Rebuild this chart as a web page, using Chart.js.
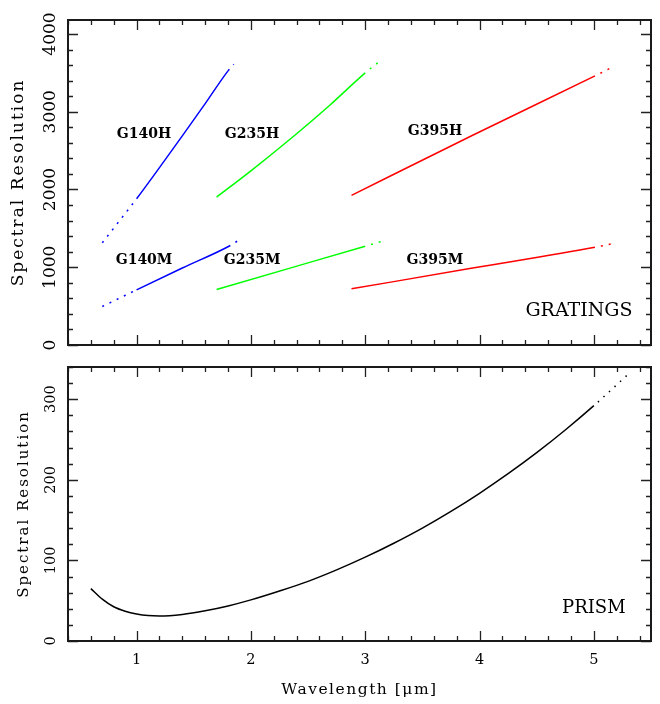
<!DOCTYPE html>
<html><head><meta charset="utf-8">
<script src="https://cdn.jsdelivr.net/npm/chart.js@4.4.1/dist/chart.umd.min.js"></script>
<style>
html,body{margin:0;padding:0;background:#fff;}
#wrap{position:relative;width:660px;height:704px;background:#fff;}
#c1{position:absolute;left:0;top:0;}
#c2{position:absolute;left:0;top:360px;}
</style></head><body>
<div id="wrap"><canvas id="c1" width="660" height="360"></canvas><canvas id="c2" width="660" height="344"></canvas></div>
<script>
const FONT = '"DejaVu Serif", "Liberation Serif", serif';

// ---- data (wavelength in micron, spectral resolution) ----
const g140hWave = [0.70, 0.85, 1.00, 1.20, 1.40, 1.60, 1.80, 1.85];
const g140hRes  = [1314, 1597, 1881, 2281, 2689, 3104, 3526, 3610];
const g140mWave = [0.70, 0.85, 1.00, 1.40, 1.82, 1.88];
const g140mRes  = [495, 602, 709, 990, 1280, 1335];
const g235hWave = [1.70, 2.00, 2.35, 2.69, 3.00, 3.12];
const g235hRes  = [1902, 2240, 2656, 3084, 3500, 3642];
const g235mWave = [1.70, 2.35, 3.00, 3.15];
const g235mRes  = [713, 992, 1271, 1335];
const g395hWave = [2.88, 3.94, 5.01, 5.15];
const g395hRes  = [1924, 2698, 3461, 3565];
const g395mWave = [2.88, 3.94, 5.01, 5.16];
const g395mRes  = [722, 989, 1258, 1302];
const prismWave = [0.6, 0.7, 0.8, 0.9, 1.0, 1.1, 1.2, 1.4, 1.6, 1.8, 2.0, 2.25, 2.5, 2.75, 3.0, 3.25, 3.5, 3.75, 4.0, 4.25, 4.5, 4.75, 5.0, 5.3];
const prismRes  = [65, 52, 42.5, 37, 33.5, 31.5, 31, 33, 37.5, 43.5, 51, 62, 74, 88.2, 104, 121.3, 140.1, 160.8, 183.3, 207.6, 233.7, 261.8, 292, 331];

// nominal (solid) wavelength ranges; outside them the curve is dotted
const g140Range = [1.00, 1.82];
const g235Range = [1.70, 3.00];
const g395Range = [2.88, 5.01];
const prismRange = [0.6, 5.0];

// tick labels
const xTickLabels = [1, 2, 3, 4, 5];
const yTickLabelsTop = [0, 1000, 2000, 3000, 4000];
const yTickLabelsBottom = [0, 100, 200, 300];

// texts
const yTitle = 'Spectral Resolution';
const xTitle = 'Wavelength [\u03bcm]';
const gratingNames = ['G140H', 'G235H', 'G395H', 'G140M', 'G235M', 'G395M'];
const gratingLabelX = [1.065, 2.01, 3.61, 1.065, 2.01, 3.61];
const gratingLabelY = [2727, 2727, 2765, 1106, 1106, 1106];

function pts(w, r) { return w.map((v, i) => ({x: v, y: r[i]})); }
function seg(range, dash) {
  return {
    borderDash: c => (c.p0.parsed.x < range[0] - 1e-9 || c.p1.parsed.x > range[1] + 1e-9) ? dash : undefined,
    borderDashOffset: c => (c.p0.parsed.x >= range[1] - 1e-9) ? 2 : 0
  };
}
function ds(w, r, color, range, dash) {
  return {data: pts(w, r), borderColor: color, borderWidth: 1.5, pointRadius: 0,
          cubicInterpolationMode: 'monotone',
          fill: false, segment: seg(range, dash || [2, 6])};
}

function decor(o) {
  return {
    id: 'decor',
    afterDatasetsDraw(chart) {
      const {ctx, chartArea: a, scales: {x, y}} = chart;
      ctx.save();
      // ticks
      ctx.strokeStyle = '#222'; ctx.lineWidth = 1.3;
      ctx.beginPath();
      for (let k = 2; k <= 27; k++) {
        const v = k * 0.2; const px = Math.round(x.getPixelForValue(v)) + 0.5;
        const len = (k % 5 === 0) ? 10 : 5;
        ctx.moveTo(px, a.bottom); ctx.lineTo(px, a.bottom - len);
        ctx.moveTo(px, a.top); ctx.lineTo(px, a.top + len);
      }
      for (let v = 0; v <= y.max + 1e-9; v += o.yMinor) {
        const py = Math.round(y.getPixelForValue(v)) + 0.5;
        const len = (Math.abs(v / o.yMajor - Math.round(v / o.yMajor)) < 1e-6) ? 10 : 5;
        ctx.moveTo(a.left, py); ctx.lineTo(a.left + len, py);
        ctx.moveTo(a.right, py); ctx.lineTo(a.right - len, py);
      }
      ctx.stroke();
      // frame
      ctx.lineWidth = 2; ctx.strokeStyle = '#1a1a1a';
      ctx.strokeRect(a.left, a.top, a.right - a.left, a.bottom - a.top);
      ctx.fillStyle = '#000';
      // y tick labels (rotated)
      ctx.font = o.yTickSize + 'px ' + FONT; ctx.textAlign = 'center'; ctx.textBaseline = 'alphabetic';
      o.yLabels.forEach(v => {
        ctx.save(); ctx.translate(o.yTickBase, y.getPixelForValue(v)); ctx.rotate(-Math.PI / 2);
        ctx.fillText(String(v), 0, 0); ctx.restore();
      });
      // y title
      ctx.save(); ctx.font = o.yTitleSize + 'px ' + FONT; ctx.letterSpacing = o.yTitleSpacing + 'px';
      ctx.translate(o.yTitleBase, (a.top + a.bottom) / 2); ctx.rotate(-Math.PI / 2);
      ctx.fillText(yTitle, 0, 0); ctx.restore();
      // x tick labels and title
      if (o.xLabels) {
        ctx.font = o.xTickSize + 'px ' + FONT;
        o.xLabels.forEach(v => ctx.fillText(String(v), x.getPixelForValue(v), o.xTickBase));
        ctx.save(); ctx.font = o.xTitleSize + 'px ' + FONT; ctx.letterSpacing = '1.5px';
        ctx.fillText(xTitle, (a.left + a.right) / 2, o.xTitleBase); ctx.restore();
      }
      // annotations
      (o.notes || []).forEach(n => {
        ctx.font = (n.weight || 'normal') + ' ' + n.size + 'px ' + FONT;
        ctx.fillText(n.text, x.getPixelForValue(n.x), y.getPixelForValue(n.y) + n.size * 0.36);
      });
      ctx.restore();
    }
  };
}

function baseOpts(ymax, ystep, padTop, xh) {
  return {
    responsive: false, animation: false, events: [],
    layout: {padding: {top: padTop, right: 9, left: 0, bottom: 0}},
    plugins: {legend: {display: false}, tooltip: {enabled: false}},
    scales: {
      x: {type: 'linear', min: 0.4, max: 5.5, grid: {display: false}, border: {display: false},
          ticks: {display: false, stepSize: 1}, afterFit(s) { s.height = xh; }},
      y: {type: 'linear', min: 0, max: ymax, grid: {display: false}, border: {display: false},
          ticks: {display: false, stepSize: ystep}, afterFit(s) { s.width = 68; }}
    }
  };
}

const notesTop = gratingNames.map((t, i) => ({text: t, x: gratingLabelX[i], y: gratingLabelY[i], size: 14, weight: 'bold'}));
notesTop.push({text: 'GRATINGS', x: 4.87, y: 463, size: 19});

new Chart(document.getElementById('c1'), {
  type: 'line',
  data: {datasets: [
    ds(g140hWave, g140hRes, '#0000ff', g140Range),
    ds(g140mWave, g140mRes, '#0000ff', g140Range),
    ds(g235hWave, g235hRes, '#00ff00', g235Range),
    ds(g235mWave, g235mRes, '#00ff00', g235Range),
    ds(g395hWave, g395hRes, '#ff0000', g395Range),
    ds(g395mWave, g395mRes, '#ff0000', g395Range)
  ]},
  options: baseOpts(4180, 1000, 20, 15),
  plugins: [decor({yMinor: 200, yMajor: 1000, yLabels: yTickLabelsTop, yTickSize: 17, yTickBase: 55,
                   yTitleSize: 17, yTitleSpacing: 2, yTitleBase: 23, notes: notesTop})]
});

new Chart(document.getElementById('c2'), {
  type: 'line',
  data: {datasets: [
    ds(prismWave, prismRes, '#000000', prismRange, [1.5, 6])
  ]},
  options: baseOpts(340, 100, 7, 63),
  plugins: [decor({yMinor: 20, yMajor: 100, yLabels: yTickLabelsBottom, yTickSize: 14.5, yTickBase: 55,
                   yTitleSize: 15, yTitleSpacing: 2, yTitleBase: 28,
                   xLabels: xTickLabels, xTickSize: 14.5, xTickBase: 303.5, xTitleSize: 15.5, xTitleBase: 334,
                   notes: [{text: 'PRISM', x: 5.0, y: 43.4, size: 18}]})]
});
</script>
</body></html>
